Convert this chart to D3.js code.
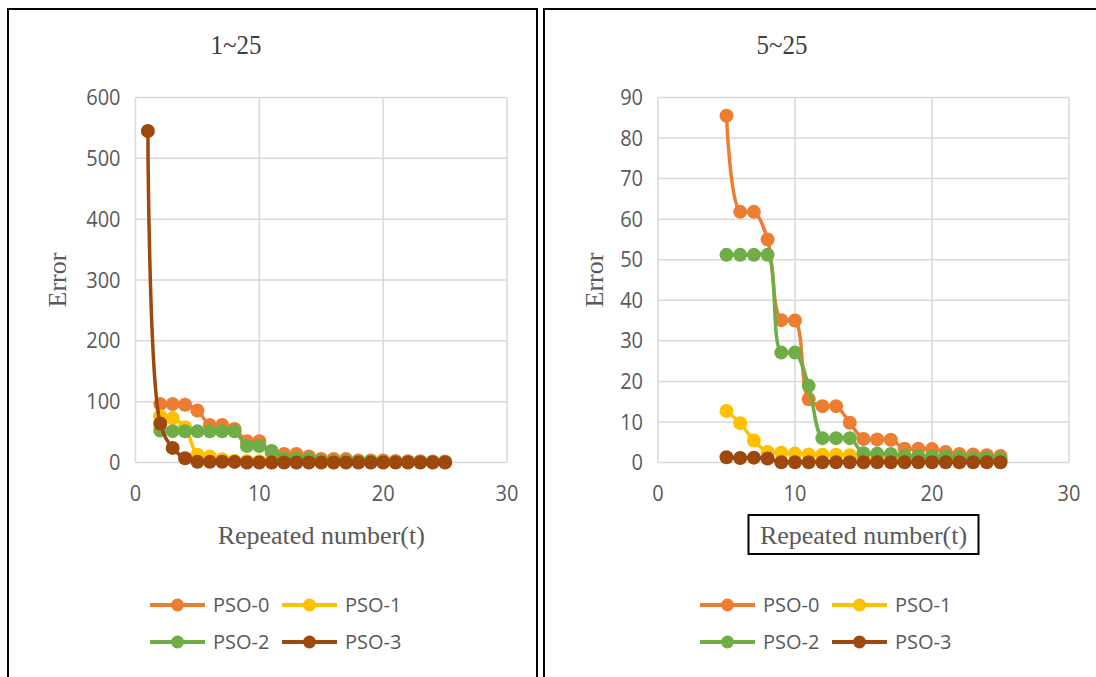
<!DOCTYPE html>
<html>
<head>
<meta charset="utf-8">
<script src="https://cdn.jsdelivr.net/npm/d3@7"></script>
<style>
  body { margin: 0; background: #fff; }
  svg { display: block; }
  .tick-label { font-family: "Open Sans", sans-serif; font-size: 20px; fill: #595959; }
  .serif { font-family: "Liberation Serif", "Times New Roman", serif; fill: #595959; }
  .legend-text { font-family: "Open Sans", sans-serif; font-size: 20px; fill: #595959; }
</style>
</head>
<body>
<svg id="chart" width="1096" height="677"></svg>
<script>
// data
const iterations = [1, 2, 3, 4, 5, 6, 7, 8, 9, 10, 11, 12, 13, 14, 15, 16, 17, 18, 19, 20, 21, 22, 23, 24, 25];
const pso0 = [null, 96, 96, 95, 85.5, 61.8, 61.8, 55, 35.1, 35, 15.6, 13.9, 13.9, 9.8, 5.8, 5.7, 5.6, 3.4, 3.4, 3.3, 2.6, 2.1, 2.0, 1.8, 1.6];
const pso1 = [null, 76, 73, 58, 12.7, 9.7, 5.4, 2.6, 2.4, 2.2, 2.0, 1.9, 1.9, 1.8, 1.0, 0.9, 0.9, 0.8, 0.8, 0.7, 0.7, 0.6, 0.6, 0.6, 0.5];
const pso2 = [null, 52.5, 51.5, 51.3, 51.2, 51.2, 51.2, 51.2, 27.1, 27.1, 18.9, 6.0, 6.0, 6.0, 2.3, 2.2, 2.1, 1.7, 1.6, 1.5, 1.4, 1.3, 1.2, 1.2, 1.0];
const pso3 = [545, 64, 24, 7, 1.3, 1.1, 1.2, 1.0, 0.05, 0.05, 0.05, 0.05, 0.05, 0.05, 0.05, 0.05, 0.05, 0.05, 0.05, 0.05, 0.05, 0.05, 0.05, 0.05, 0.05];
const seriesNames = ["PSO-0", "PSO-1", "PSO-2", "PSO-3"];
const seriesColors = ["#ED7D31", "#FFC000", "#70AD47", "#9E480E"];
const xTicks = [0, 10, 20, 30];
const yTicksLeft = [0, 100, 200, 300, 400, 500, 600];
const yTicksRight = [0, 10, 20, 30, 40, 50, 60, 70, 80, 90];

const allSeries = [pso0, pso1, pso2, pso3].map(function(vals, i) {
  return {
    name: seriesNames[i],
    color: seriesColors[i],
    values: iterations.map(function(t, j) { return {t: t, v: vals[j]}; })
      .filter(function(d) { return d.v !== null; })
  };
});

class ErrorPanel {
  constructor(svg, opts) {
    this.svg = svg;
    this.o = opts;
    this.g = svg.append("g");
    this.x = d3.scaleLinear().domain([0, 30]).range([opts.left, opts.right]);
    this.y = d3.scaleLinear().domain([0, opts.yMax]).range([opts.bottom, opts.top]);
  }

  draw(series) {
    const o = this.o, x = this.x, y = this.y, g = this.g;

    // panel frame
    g.append("rect")
      .attr("x", o.frame[0]).attr("y", o.frame[1])
      .attr("width", o.frame[2]).attr("height", o.frame[3])
      .attr("fill", "none").attr("stroke", "#000").attr("stroke-width", 2);

    // grid
    g.selectAll(".hgrid").data(o.yTicks).enter().append("line")
      .attr("x1", o.left).attr("x2", o.right)
      .attr("y1", function(d) { return y(d); }).attr("y2", function(d) { return y(d); })
      .attr("stroke", "#D9D9D9").attr("stroke-width", 1.5);
    g.selectAll(".vgrid").data(xTicks).enter().append("line")
      .attr("y1", o.top).attr("y2", o.bottom)
      .attr("x1", function(d) { return x(d); }).attr("x2", function(d) { return x(d); })
      .attr("stroke", "#D9D9D9").attr("stroke-width", 1.5);

    // tick labels (slightly taller glyphs like the picture)
    g.selectAll(".ylab").data(o.yTicks).enter().append("text")
      .attr("class", "tick-label")
      .attr("transform", function(d) { return "translate(" + (o.left - 15) + "," + y(d) + ") scale(1,1.08)"; })
      .attr("dy", "0.35em").attr("text-anchor", "end")
      .text(function(d) { return d; });
    g.selectAll(".xlab").data(xTicks).enter().append("text")
      .attr("class", "tick-label")
      .attr("transform", function(d) { return "translate(" + x(d) + "," + (o.bottom + 31) + ") scale(1,1.08)"; })
      .attr("dy", "0.35em").attr("text-anchor", "middle")
      .text(function(d) { return d; });

    // titles
    g.append("text").attr("class", "serif")
      .attr("transform", "translate(" + o.titleX + ",44) scale(1,1.12)")
      .attr("dy", "0.35em")
      .attr("text-anchor", "middle").style("font-size", "25px").style("fill", "#404040")
      .text(o.title);
    g.append("text").attr("class", "serif")
      .attr("transform", "translate(" + o.errorX + ",280) rotate(-90)")
      .attr("dy", "0.35em").attr("text-anchor", "middle").style("font-size", "26px")
      .text("Error");
    const midX = (o.left + o.right) / 2;
    g.append("text").attr("class", "serif")
      .attr("x", midX).attr("y", 535).attr("dy", "0.35em")
      .attr("text-anchor", "middle").style("font-size", "26px")
      .text("Repeated number(t)");
    if (o.boxed) {
      g.append("rect")
        .attr("x", midX - 115).attr("y", 515).attr("width", 230).attr("height", 39)
        .attr("fill", "none").attr("stroke", "#000").attr("stroke-width", 2);
    }

    // series
    const line = d3.line()
      .x(function(d) { return x(d.t); })
      .y(function(d) { return y(d.v); })
      .curve(d3.curveCatmullRom.alpha(0.5));

    series.forEach(function(s) {
      const pts = s.values.filter(function(d) { return d.t >= o.tMin; });
      const sg = g.append("g");
      sg.append("path")
        .attr("d", line(pts))
        .attr("fill", "none").attr("stroke", s.color)
        .attr("stroke-width", 3.5).attr("stroke-linejoin", "round");
      sg.selectAll("circle").data(pts).enter().append("circle")
        .attr("cx", function(d) { return x(d.t); })
        .attr("cy", function(d) { return y(d.v); })
        .attr("r", 7).attr("fill", s.color);
    });

    // legend
    const legend = g.selectAll(".legend").data(series).enter().append("g")
      .attr("transform", function(d, i) {
        return "translate(" + (o.legendX + (i % 2) * 132) + "," + (i < 2 ? 605 : 642) + ")";
      });
    legend.append("line")
      .attr("x1", 0).attr("x2", 55).attr("y1", 0).attr("y2", 0)
      .attr("stroke", function(d) { return d.color; }).attr("stroke-width", 4);
    legend.append("circle")
      .attr("cx", 27.5).attr("cy", 0).attr("r", 6.5)
      .attr("fill", function(d) { return d.color; });
    legend.append("text").attr("class", "legend-text")
      .attr("x", 63).attr("y", 0).attr("dy", "0.35em")
      .text(function(d) { return d.name; });
  }
}

const svg = d3.select("#chart");
svg.append("rect").attr("width", 1096).attr("height", 677).attr("fill", "#fff");

const leftPanel = new ErrorPanel(svg, {
  frame: [8, 9, 529, 680], left: 135.5, right: 507, top: 97.5, bottom: 462.5,
  yMax: 600, yTicks: yTicksLeft, tMin: 1, title: "1~25", titleX: 236,
  errorX: 57, legendX: 150, boxed: false
});
leftPanel.draw(allSeries);

const rightPanel = new ErrorPanel(svg, {
  frame: [544, 9, 560, 680], left: 658, right: 1069, top: 97.5, bottom: 462.5,
  yMax: 90, yTicks: yTicksRight, tMin: 5, title: "5~25", titleX: 782,
  errorX: 594, legendX: 700, boxed: true
});
rightPanel.draw(allSeries);
</script>
</body>
</html>
